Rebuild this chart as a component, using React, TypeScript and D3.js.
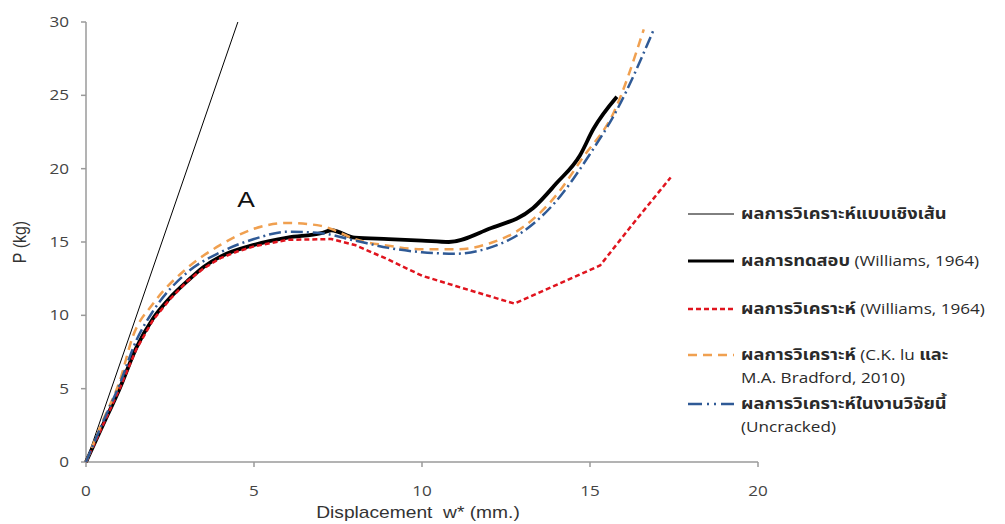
import React from "react";
import * as d3 from "d3";

type Pt = [number, number];

const xTicks = [0, 5, 10, 15, 20];
const yTicks = [0, 5, 10, 15, 20, 25, 30];

const linearSeries: Pt[] = [[0, 0], [4.52, 30]];

const testSeries: Pt[] = [
  [0, 0], [0.5, 2.5], [1, 5], [1.5, 7.8], [2, 9.8], [2.5, 11.2], [3, 12.3], [3.5, 13.3],
  [4, 14], [5, 14.8], [6, 15.3], [7, 15.6], [7.3, 15.8], [8, 15.3], [9, 15.2], [10, 15.1],
  [10.8, 15.0], [12, 15.9], [13.3, 17.3], [14, 19], [14.7, 20.9], [15.1, 22.7], [15.8, 24.9],
];

const williamsSeries: Pt[] = [
  [0, 0], [0.5, 2.5], [1, 5], [1.5, 7.7], [2, 9.7], [2.5, 11.1], [3, 12.3], [3.5, 13.2],
  [4, 13.9], [4.5, 14.35], [5, 14.7], [6, 15.15], [7.3, 15.2], [8, 14.8], [9, 13.8],
  [10, 12.7], [11, 12], [12.75, 10.8], [15.3, 13.4], [16.3, 16.3], [17.4, 19.4],
];

const iuSeries: Pt[] = [
  [0, 0], [0.5, 2.8], [1, 5.5], [1.4, 8.6], [2, 10.8], [3, 13.2], [4, 14.8], [5, 15.9],
  [6, 16.3], [7, 16.1], [7.5, 15.7], [8, 15.2], [9, 14.75], [10, 14.5], [11, 14.5],
  [12, 14.9], [13, 16.0], [14, 18.2], [14.8, 20.8], [15.7, 23.8], [16.6, 29.5],
];

const thisSeries: Pt[] = [
  [0, 0], [0.5, 2.7], [1, 5.3], [1.5, 8.3], [2, 10.3], [3, 12.9], [4, 14.3], [5, 15.2],
  [6, 15.7], [7, 15.6], [8, 15.1], [9, 14.6], [10, 14.3], [11, 14.2], [12, 14.6],
  [13, 15.7], [14, 17.8], [15, 21], [15.8, 24], [16.9, 29.5],
];

const legendLabels: string[][] = [
  ["ผลการวิเคราะห์แบบเชิงเส้น"],
  ["ผลการทดสอบ (Williams, 1964)"],
  ["ผลการวิเคราะห์ (Williams, 1964)"],
  ["ผลการวิเคราะห์ (C.K. lu และ", "M.A. Bradford, 2010)"],
  ["ผลการวิเคราะห์ในงานวิจัยนี้", "(Uncracked)"],
];

const styles = [
  { color: "#000", width: 1, dash: "" },
  { color: "#000", width: 3.8, dash: "" },
  { color: "#e0141e", width: 2.5, dash: "5,3" },
  { color: "#f0a050", width: 2.5, dash: "9,6" },
  { color: "#2f5a96", width: 2.5, dash: "12,4,2,4" },
];

const seriesList = [linearSeries, testSeries, williamsSeries, iuSeries, thisSeries];
const curveKinds = ["linear", "monotone", "linear", "monotone", "monotone"];

function splitThai(s: string): { t: string; thai: boolean }[] {
  const parts: { t: string; thai: boolean }[] = [];
  const re = /([\u0E00-\u0E7F]+)/g;
  let last = 0;
  let m: RegExpExecArray | null;
  while ((m = re.exec(s)) !== null) {
    if (m.index > last) parts.push({ t: s.slice(last, m.index), thai: false });
    parts.push({ t: m[0], thai: true });
    last = m.index + m[0].length;
  }
  if (last < s.length) parts.push({ t: s.slice(last), thai: false });
  return parts;
}

export default function App() {
  const W = 1005, H = 524;
  const x = d3.scaleLinear().domain([0, 20]).range([86, 758]);
  const y = d3.scaleLinear().domain([0, 30]).range([462, 22]);
  const lineMono = d3.line<Pt>().x(d => x(d[0])).y(d => y(d[1])).curve(d3.curveMonotoneX);
  const lineLin = d3.line<Pt>().x(d => x(d[0])).y(d => y(d[1]));
  const axisColor = "#9a9a9a";
  const tickFont = "'Open Sans', 'Noto Sans', sans-serif";
  const thaiFont = "'Noto Sans Thai', 'Tahoma', 'DejaVu Sans', 'Noto Sans', sans-serif";
  const latinFont = "'Open Sans', 'Noto Sans', sans-serif";
  const sx = 1.18;

  const legendY = [214, 261, 309, 355, 404];

  return (
    <svg width={W} height={H} style={{ position: "absolute", left: 0, top: 0, background: "#fff" }}>
      <rect x={0} y={0} width={W} height={H} fill="#fff" />
      {/* axes */}
      <line x1={x(0)} x2={x(0)} y1={y(30)} y2={y(0)} stroke={axisColor} strokeWidth={1.5} />
      <line x1={x(0)} x2={x(20)} y1={y(0)} y2={y(0)} stroke={axisColor} strokeWidth={1.5} />
      {yTicks.map(t => (
        <g key={"y" + t}>
          <line x1={x(0) - 5} x2={x(0)} y1={y(t)} y2={y(t)} stroke={axisColor} strokeWidth={1.5} />
          <text transform={`translate(69,${y(t)}) scale(${sx},1)`} dy="0.35em" textAnchor="end"
            fontFamily={tickFont} fontSize={14.5} fill="#444">{t}</text>
        </g>
      ))}
      {xTicks.map(t => (
        <g key={"x" + t}>
          <line x1={x(t)} x2={x(t)} y1={y(0)} y2={y(0) + 5} stroke={axisColor} strokeWidth={1.5} />
          <text transform={`translate(${x(t)},496) scale(${sx},1)`} textAnchor="middle"
            fontFamily={tickFont} fontSize={14.5} fill="#444">{t}</text>
        </g>
      ))}
      <text transform={`translate(418,518) scale(1.2,1)`} textAnchor="middle"
        fontFamily="'Liberation Sans', Arial, sans-serif" fontSize={16} fill="#333">{"Displacement\u00A0\u00A0w* (mm.)"}</text>
      <text transform={`translate(26,242) rotate(-90) scale(1,1.2)`} textAnchor="middle"
        fontFamily="'Liberation Sans', Arial, sans-serif" fontSize={16} fill="#333">P (kg)</text>
      <text transform={`translate(246,207) scale(1.2,1)`} textAnchor="middle"
        fontFamily="'Liberation Sans', Arial, sans-serif" fontSize={22} fill="#111">A</text>

      {/* series */}
      {seriesList.map((s, i) => (
        <path key={"s" + i} d={(curveKinds[i] === "linear" ? lineLin(s) : lineMono(s)) || ""} fill="none"
          stroke={styles[i].color} strokeWidth={styles[i].width}
          strokeDasharray={styles[i].dash || undefined} strokeLinejoin="round" />
      ))}

      {/* legend */}
      {legendLabels.map((lines, i) => (
        <g key={"l" + i}>
          <line x1={688} x2={734} y1={legendY[i]} y2={legendY[i]} stroke={styles[i].color}
            strokeWidth={i === 1 ? 3 : styles[i].width}
            strokeDasharray={i === 4 ? "14,5,2,5,2,5" : (styles[i].dash || undefined)} />
          {lines.map((ln, j) => (
            <text key={j} transform={`translate(741,${legendY[i] + j * 23}) scale(${sx},1)`} dy="0.35em"
              fontSize={14.5} fill="#2a2a2a">
              {splitThai(ln).map((p, k) => (
                <tspan key={k} fontFamily={p.thai ? thaiFont : latinFont}
                  fontSize={p.thai ? 15.5 : 14.5}
                  fontWeight={p.thai ? 700 : 400}>{p.t}</tspan>
              ))}
            </text>
          ))}
        </g>
      ))}
    </svg>
  );
}
